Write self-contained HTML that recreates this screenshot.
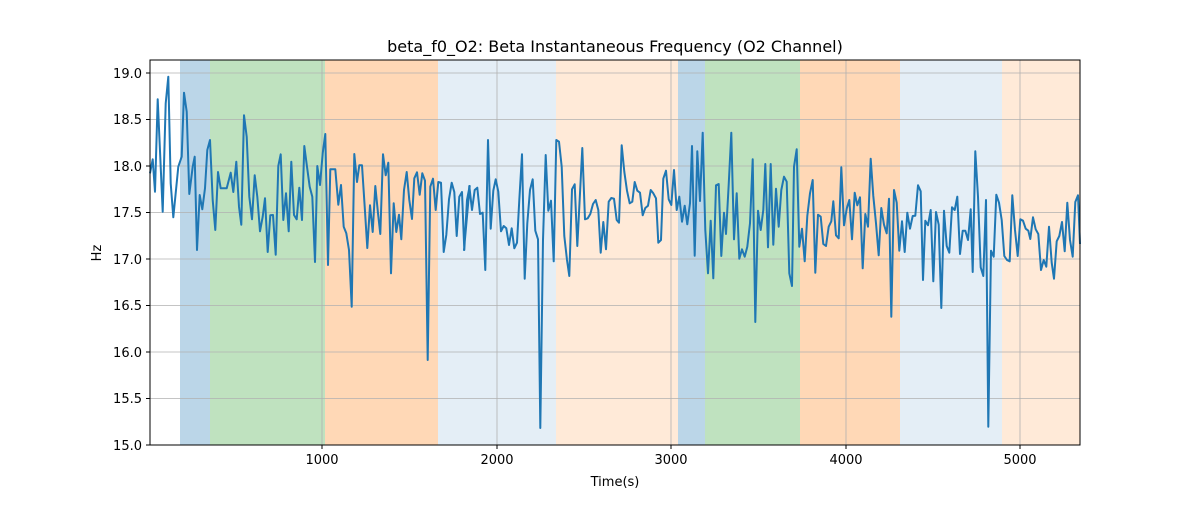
<!DOCTYPE html>
<html><head><meta charset="utf-8"><style>
body{margin:0;background:#fff;}
svg text{font-family:"DejaVu Sans","Liberation Sans",sans-serif;fill:#000;}
</style></head><body>
<svg id="s" width="1200" height="500" xmlns="http://www.w3.org/2000/svg">
<rect width="1200" height="500" fill="#fff"/>
<g id="bands">
<rect x="180" y="60" width="30" height="385" fill="#1f77b4" fill-opacity="0.3"/>
<rect x="210" y="60" width="115" height="385" fill="#2ca02c" fill-opacity="0.3"/>
<rect x="325" y="60" width="113" height="385" fill="#ff7f0e" fill-opacity="0.3"/>
<rect x="438" y="60" width="118" height="385" fill="#1f77b4" fill-opacity="0.12"/>
<rect x="556" y="60" width="122" height="385" fill="#ff7f0e" fill-opacity="0.16"/>
<rect x="678" y="60" width="27" height="385" fill="#1f77b4" fill-opacity="0.3"/>
<rect x="705" y="60" width="95" height="385" fill="#2ca02c" fill-opacity="0.3"/>
<rect x="800" y="60" width="100" height="385" fill="#ff7f0e" fill-opacity="0.3"/>
<rect x="900" y="60" width="102" height="385" fill="#1f77b4" fill-opacity="0.12"/>
<rect x="1002" y="60" width="78" height="385" fill="#ff7f0e" fill-opacity="0.16"/>
</g>
<g stroke="#b0b0b0" stroke-width="0.8" id="grid">
<line x1="322" x2="322" y1="60" y2="445"/><line x1="497" x2="497" y1="60" y2="445"/>
<line x1="671" x2="671" y1="60" y2="445"/><line x1="846" x2="846" y1="60" y2="445"/>
<line x1="1020" x2="1020" y1="60" y2="445"/>
<line x1="150" x2="1080" y1="398.5" y2="398.5"/><line x1="150" x2="1080" y1="352" y2="352"/>
<line x1="150" x2="1080" y1="305.5" y2="305.5"/><line x1="150" x2="1080" y1="259" y2="259"/>
<line x1="150" x2="1080" y1="212.5" y2="212.5"/><line x1="150" x2="1080" y1="166" y2="166"/>
<line x1="150" x2="1080" y1="119.5" y2="119.5"/><line x1="150" x2="1080" y1="73" y2="73"/>
</g>
<polyline id="ln" fill="none" stroke="#1f77b4" stroke-width="2" stroke-linejoin="round"/>
<rect x="150" y="60" width="930" height="385" fill="none" stroke="#000" stroke-width="1"/>
<g stroke="#000" stroke-width="1">
<line x1="322" x2="322" y1="445" y2="449"/><line x1="497" x2="497" y1="445" y2="449"/>
<line x1="671" x2="671" y1="445" y2="449"/><line x1="846" x2="846" y1="445" y2="449"/>
<line x1="1020" x2="1020" y1="445" y2="449"/>
<line x1="146" x2="150" y1="445" y2="445"/><line x1="146" x2="150" y1="398.5" y2="398.5"/>
<line x1="146" x2="150" y1="352" y2="352"/><line x1="146" x2="150" y1="305.5" y2="305.5"/>
<line x1="146" x2="150" y1="259" y2="259"/><line x1="146" x2="150" y1="212.5" y2="212.5"/>
<line x1="146" x2="150" y1="166" y2="166"/><line x1="146" x2="150" y1="119.5" y2="119.5"/>
<line x1="146" x2="150" y1="73" y2="73"/>
</g>
<g font-size="13" text-anchor="middle">
<text x="322" y="464">1000</text><text x="497" y="464">2000</text><text x="671" y="464">3000</text>
<text x="846" y="464">4000</text><text x="1020" y="464">5000</text>
<text x="615" y="486">Time(s)</text>
</g>
<g font-size="13" text-anchor="end">
<text x="142" y="450">15.0</text><text x="142" y="403">15.5</text><text x="142" y="357">16.0</text>
<text x="142" y="310">16.5</text><text x="142" y="264">17.0</text><text x="142" y="217">17.5</text>
<text x="142" y="171">18.0</text><text x="142" y="124">18.5</text><text x="142" y="78">19.0</text>
</g>
<text x="101" y="253" font-size="13" text-anchor="middle" transform="rotate(-90 101 253)">Hz</text>
<text x="615" y="52" font-size="16" text-anchor="middle">beta_f0_O2: Beta Instantaneous Frequency (O2 Channel)</text>
</svg>
<script>
var A=[[0,340],[8,298],[15,395],[23,118],[38,455],[47,130],[55,50],[62,370],[70,472],[85,320],[95,290],[102,98],[110,155],[118,402],[128,320],[134,290],[141,570],[149,405],[157,448],[165,385],[172,270],[180,240],[188,420],[196,510],[204,336],[212,385],[230,385],[242,338],[250,396],[259,305],[267,440],[274,494],[282,166],[290,230],[298,410],[306,478],[314,346],[322,410],[330,514],[338,470],[345,415],[353,576],[361,466],[369,465],[377,584],[385,318],[392,283],[400,480],[408,400],[416,514],[424,305],[432,465],[440,478],[448,383],[456,480],[463,258],[471,320],[479,380],[487,410],[495,606],[502,318],[510,375],[518,280],[526,222],[534,615],[541,328],[556,328],[565,434],[573,375],[581,500],[589,520],[597,570],[605,740],[613,282],[621,366],[628,316],[636,316],[644,440],[652,564],[660,436],[668,516],[676,378],[684,460],[691,522],[699,283],[707,346],[715,308],[723,640],[731,430],[739,516],[747,464],[754,538],[762,390],[770,336],[778,420],[786,477],[793,355],[801,337],[809,404],[817,340],[825,362],[833,900],[841,380],[849,356],[857,450],[865,366],[873,368],[881,576],[889,525],[897,418],[905,368],[913,396],[920,528],[928,410],[936,396],[943,570],[951,420],[959,378]];
var B=[[12,570],[20,470],[28,378],[36,450],[44,390],[52,383],[60,462],[68,458],[76,630],[84,240],[92,506],[100,392],[107,358],[115,395],[123,514],[131,498],[139,505],[147,555],[155,505],[163,565],[171,548],[178,420],[186,283],[194,656],[202,490],[210,390],[218,358],[226,512],[234,538],[241,1104],[249,540],[257,285],[265,452],[273,422],[281,604],[289,240],[297,245],[305,320],[313,528],[321,600],[328,648],[336,388],[344,373],[352,558],[360,400],[367,264],[375,478],[383,475],[391,462],[399,432],[407,420],[415,450],[422,578],[430,486],[438,568],[446,425],[454,414],[462,416],[470,480],[477,488],[485,256],[493,335],[501,392],[509,430],[517,425],[524,366],[532,392],[540,398],[548,466],[556,444],[564,437],[572,390],[580,400],[588,415],[595,548],[603,540],[610,356],[618,332],[626,418],[634,435],[642,330],[650,450],[658,410],[666,485],[674,437],[682,493],[690,430],[696,258],[704,587],[712,274],[720,423],[728,218],[736,510],[744,640],[752,482],[760,655],[768,376],[776,372],[784,588],[792,458],[798,522],[806,374],[814,218],[822,538],[830,400],[838,596],[846,568],[854,590],[862,560],[870,490],[878,298],[886,786],[894,452],[902,510],[910,450],[916,312],[924,562],[932,312]];
var C=[[10,554],[18,386],[26,500],[34,390],[42,350],[50,365],[58,640],[66,678],[72,320],[80,268],[88,560],[96,506],[104,604],[112,468],[120,400],[128,360],[136,638],[144,464],[152,470],[160,552],[168,558],[176,500],[184,484],[190,424],[198,526],[206,535],[214,322],[222,496],[230,446],[238,420],[246,538],[254,398],[262,436],[270,412],[278,625],[286,462],[294,500],[302,296],[310,408],[318,490],[326,586],[334,444],[342,494],[350,520],[357,416],[364,770],[372,390],[380,428],[388,572],[396,484],[404,576],[412,458],[420,506],[428,468],[436,467],[444,376],[452,394],[459,660],[466,482],[474,496],[482,450],[490,664],[498,456],[506,494],[514,744],[522,452],[530,558],[538,578],[546,442],[554,450],[562,410],[570,582],[578,512],[586,512],[594,540],[602,448],[608,636],[616,274],[624,410],[632,622],[640,648],[648,420],[655,1100],[663,572],[671,590],[679,404],[687,428],[695,480],[703,588],[711,600],[719,604],[727,406],[735,510],[743,588],[751,478],[759,482],[767,506],[775,512],[781,537],[789,472],[797,508],[805,522],[813,630],[821,600],[829,620],[837,500],[845,608],[852,656],[860,544],[868,528],[876,486],[884,574],[892,428],[900,540],[908,590],[916,426],[924,406],[930,552]];
var p=[];
A.forEach(function(a){p.push((150+a[0]/3).toFixed(1)+','+(60+a[1]/3).toFixed(1));});
B.forEach(function(a){p.push((460+a[0]/3).toFixed(1)+','+(60+a[1]/3).toFixed(1));});
C.forEach(function(a){p.push((770+a[0]/3).toFixed(1)+','+(60+a[1]/3).toFixed(1));});
document.getElementById('ln').setAttribute('points',p.join(' '));
</script>
</body></html>
